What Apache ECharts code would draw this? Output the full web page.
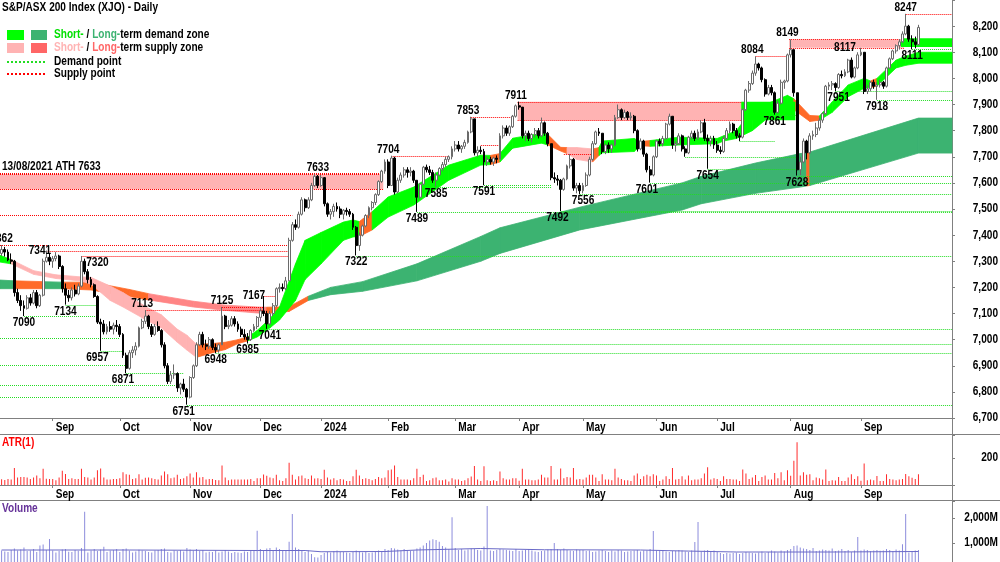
<!DOCTYPE html>
<html><head><meta charset="utf-8">
<script src="https://cdn.jsdelivr.net/npm/echarts@6/dist/echarts.min.js"></script>
<style>html,body{margin:0;padding:0;background:#fff}#c{width:1000px;height:562px}</style>
</head><body><div id="c"></div>
<script>
// ---------------- DATA ----------------
const firstDay = '2023-08-10';
const holidays = ['2023-12-25','2023-12-26','2024-01-01','2024-01-26','2024-03-29','2024-04-01','2024-04-25','2024-06-10'];
const monthNames = ['Jan','Feb','Mar','Apr','May','Jun','Jul','Aug','Sep','Oct','Nov','Dec'];

// daily [open, high, low, close]
const ohlc = [
// Aug 2023
[7330,7362,7320,7345],[7345,7355,7318,7335],[7335,7345,7300,7305],[7305,7330,7290,7300],[7300,7305,7165,7180],[7180,7195,7140,7150],[7150,7170,7110,7130],[7130,7150,7090,7120],[7120,7170,7115,7160],[7160,7175,7130,7140],[7140,7190,7135,7180],[7180,7190,7120,7130],[7130,7175,7125,7170],[7170,7310,7165,7300],[7300,7341,7295,7315],[7315,7330,7285,7300],
// Sep
[7300,7320,7275,7310],[7310,7335,7300,7320],[7320,7325,7270,7280],[7280,7285,7180,7195],[7195,7215,7134,7170],[7170,7190,7145,7160],[7160,7200,7150,7190],[7190,7210,7165,7175],[7175,7215,7170,7205],[7205,7320,7200,7300],[7300,7310,7250,7260],[7260,7270,7215,7230],[7230,7240,7200,7210],[7210,7215,7160,7165],[7165,7170,7060,7067],[7067,7080,6957,7060],[7060,7075,7020,7030],[7030,7060,7020,7050],[7050,7070,7030,7040],[7040,7065,7020,7055],[7055,7075,7030,7050],
// Oct
[7050,7060,7010,7020],[7020,7025,6930,6940],[6940,6950,6871,6890],[6890,6960,6885,6950],[6950,6975,6930,6960],[6960,6990,6940,6975],[6975,7050,6970,7045],[7045,7080,7040,7070],[7070,7113,7060,7090],[7090,7095,7040,7050],[7050,7060,7010,7020],[7020,7060,7015,7050],[7050,7070,7030,7035],[7035,7040,6970,6980],[6980,6990,6890,6900],[6900,6910,6830,6840],[6840,6880,6830,6865],[6865,6905,6850,6870],[6870,6875,6800,6815],[6815,6835,6790,6830],[6830,6850,6800,6810],[6810,6815,6751,6780],
// Nov
[6780,6860,6775,6855],[6855,6905,6850,6900],[6900,6990,6895,6980],[6980,7030,6975,7020],[7020,7030,6970,6980],[6980,7000,6960,6975],[6975,7010,6965,7000],[7000,7005,6960,6970],[6970,6985,6948,6960],[6960,6985,6950,6980],[6980,7125,6980,7090],[7090,7095,7040,7050],[7050,7075,7040,7055],[7055,7090,7050,7080],[7080,7090,7050,7060],[7060,7070,7030,7040],[7040,7050,7010,7020],[7020,7040,7000,7010],[7010,7025,6985,7000],[7000,7040,6995,7035],[7035,7060,7030,7050],[7050,7090,7040,7085],
// Dec
[7085,7120,7070,7110],[7110,7167,7090,7100],[7100,7110,7041,7060],[7060,7110,7055,7100],[7100,7140,7090,7130],[7130,7200,7125,7195],[7195,7215,7180,7200],[7200,7215,7185,7195],[7195,7240,7190,7225],[7225,7390,7225,7380],[7380,7450,7375,7440],[7440,7460,7420,7430],[7430,7490,7425,7480],[7480,7545,7475,7535],[7535,7540,7490,7505],[7505,7545,7500,7535],[7535,7600,7530,7590],[7590,7633,7585,7625],[7625,7630,7580,7590],
// Jan 2024
[7590,7630,7585,7620],[7620,7622,7510,7520],[7520,7525,7470,7480],[7480,7500,7460,7490],[7490,7520,7470,7510],[7510,7525,7490,7500],[7500,7510,7465,7480],[7480,7500,7460,7495],[7495,7505,7475,7490],[7490,7500,7470,7480],[7480,7485,7420,7430],[7430,7435,7322,7360],[7360,7410,7340,7400],[7400,7440,7395,7435],[7435,7480,7430,7475],[7475,7510,7465,7505],[7505,7530,7495,7525],[7525,7560,7515,7555],[7555,7610,7550,7605],[7605,7650,7600,7645],[7645,7690,7635,7680],
// Feb
[7680,7690,7580,7590],[7590,7704,7590,7695],[7695,7700,7555,7565],[7565,7620,7560,7610],[7610,7640,7600,7630],[7630,7660,7620,7650],[7650,7660,7620,7640],[7640,7660,7625,7645],[7645,7650,7600,7610],[7610,7610,7489,7545],[7545,7600,7540,7595],[7595,7665,7590,7660],[7660,7670,7640,7650],[7650,7665,7630,7640],[7640,7650,7600,7610],[7610,7640,7585,7630],[7630,7660,7625,7655],[7655,7680,7645,7670],[7670,7700,7660,7690],[7690,7705,7680,7700],[7700,7740,7690,7730],
// Mar
[7730,7760,7720,7745],[7745,7760,7720,7730],[7730,7745,7715,7740],[7740,7765,7730,7755],[7755,7800,7750,7795],[7795,7853,7790,7845],[7845,7845,7705,7715],[7715,7740,7700,7725],[7725,7740,7710,7720],[7720,7730,7591,7680],[7680,7700,7665,7690],[7690,7700,7670,7680],[7680,7700,7665,7695],[7695,7705,7675,7690],[7690,7790,7690,7780],[7780,7820,7770,7810],[7810,7820,7780,7790],[7790,7820,7780,7815],[7815,7860,7810,7855],[7855,7900,7850,7895],
// Apr
[7895,7911,7880,7890],[7890,7890,7770,7780],[7780,7800,7760,7790],[7790,7800,7760,7770],[7770,7790,7755,7785],[7785,7810,7775,7800],[7800,7810,7770,7780],[7780,7850,7775,7830],[7830,7835,7780,7790],[7790,7795,7740,7750],[7750,7750,7610,7620],[7620,7640,7600,7615],[7615,7630,7590,7610],[7610,7615,7492,7575],[7575,7620,7570,7615],[7615,7670,7610,7665],[7665,7710,7655,7690],[7690,7695,7570,7580],[7580,7600,7560,7590],[7590,7600,7556,7570],
// May
[7570,7600,7560,7590],[7590,7640,7585,7630],[7630,7700,7625,7690],[7690,7760,7685,7750],[7750,7800,7745,7795],[7795,7810,7780,7790],[7790,7790,7710,7720],[7720,7750,7710,7745],[7745,7755,7715,7730],[7730,7750,7715,7745],[7745,7860,7740,7850],[7850,7900,7845,7880],[7880,7885,7840,7850],[7850,7880,7845,7870],[7870,7875,7840,7850],[7850,7870,7840,7855],[7855,7860,7790,7800],[7800,7805,7720,7730],[7730,7770,7725,7760],[7760,7765,7700,7710],[7710,7715,7640,7650],[7650,7665,7601,7630],[7630,7705,7625,7700],
// Jun
[7700,7765,7695,7760],[7760,7770,7740,7750],[7750,7780,7740,7770],[7770,7830,7765,7825],[7825,7865,7820,7855],[7855,7855,7730,7745],[7745,7760,7720,7750],[7750,7790,7745,7780],[7780,7785,7720,7730],[7730,7740,7700,7715],[7715,7780,7710,7775],[7775,7800,7765,7790],[7790,7800,7760,7770],[7770,7805,7765,7795],[7795,7840,7790,7830],[7830,7845,7760,7770],[7770,7785,7654,7760],[7760,7780,7740,7770],[7770,7780,7730,7745],
// Jul
[7745,7760,7715,7725],[7725,7740,7710,7720],[7720,7780,7715,7770],[7770,7810,7765,7800],[7800,7835,7790,7825],[7825,7830,7790,7800],[7800,7810,7770,7780],[7780,7790,7760,7775],[7775,7885,7770,7880],[7880,7960,7875,7955],[7955,7990,7945,7980],[7980,8030,7975,8020],[8020,8084,8010,8055],[8055,8060,8030,8040],[8040,8045,7985,7995],[7995,8000,7930,7940],[7940,7975,7935,7965],[7965,7975,7935,7945],[7945,7950,7861,7870],[7870,7915,7865,7905],[7905,7995,7900,7985],[7985,7995,7960,7990],[7990,8095,7985,8090],
// Aug
[8090,8149,8080,8110],[8110,8110,7930,7945],[7945,7945,7628,7650],[7650,7700,7630,7680],[7680,7770,7675,7760],[7760,7765,7690,7715],[7715,7790,7710,7780],[7780,7800,7765,7785],[7785,7830,7775,7810],[7810,7850,7800,7840],[7840,7870,7830,7865],[7865,7975,7860,7970],[7970,7985,7955,7975],[7975,7990,7955,7980],[7980,7985,7951,7965],[7965,8020,7960,8015],[8015,8030,8000,8010],[8010,8035,8005,8025],[8025,8075,8020,8070],[8070,8080,8000,8005],[8005,8045,8000,8040],[8040,8100,8035,8090],
// Sep
[8090,8117,8085,8100],[8100,8100,7940,7950],[7950,7975,7940,7960],[7960,7990,7950,7985],[7985,7995,7960,7970],[7970,7985,7918,7975],[7975,7995,7965,7985],[7985,7990,7960,7970],[7970,8045,7965,8040],[8040,8080,8035,8075],[8075,8110,8070,8105],[8105,8130,8095,8125],[8125,8150,8110,8140],[8140,8180,8135,8170],[8170,8247,8165,8200],[8200,8205,8140,8150],[8150,8165,8111,8140],[8140,8160,8115,8130],[8130,8205,8125,8195]
];

// ATR(1) per day (points)
const atr = [
42,37,45,40,125,55,60,60,55,45,55,70,50,120,46,45,
45,35,55,105,81,45,50,45,45,120,60,55,40,55,110,123,55,40,40,45,45,
50,95,79,75,45,50,80,40,53,55,50,45,40,70,100,80,50,55,75,45,50,64,
85,55,95,55,60,40,45,45,37,35,145,55,35,40,40,40,40,40,40,45,30,50,
50,77,69,55,50,75,35,30,50,165,75,40,65,70,50,45,70,48,50,
45,112,55,40,50,35,45,40,30,30,65,113,70,45,50,45,35,45,60,50,55,
110,114,145,60,40,40,40,35,50,121,60,75,30,35,50,55,35,35,40,25,50,
40,40,30,35,50,63,140,40,30,139,35,30,35,30,100,50,40,40,50,50,
31,120,40,40,35,35,40,75,55,55,140,40,40,123,50,60,55,125,40,44,
40,55,75,75,55,30,80,40,40,35,120,55,45,35,35,30,70,85,45,65,75,64,80,
70,30,40,65,45,125,40,45,65,40,70,35,40,40,50,85,131,40,50,
45,30,65,45,45,40,40,30,115,85,45,55,74,30,60,70,40,40,89,50,95,35,110,
69,180,317,70,95,75,80,35,55,50,40,115,30,35,34,60,30,30,55,80,45,65,
32,160,35,40,35,67,30,30,80,45,40,35,40,45,82,65,54,45,80
];

// Volume per day (millions)
const volume = [
700,660,640,720,780,700,740,820,680,700,760,640,900,940,720,1160,
700,620,680,740,760,650,640,720,690,800,2250,620,700,760,680,740,850,640,700,720,760,
640,760,780,700,620,660,730,700,680,640,620,700,720,760,780,640,620,700,680,720,660,800,
740,700,760,680,720,620,650,640,700,620,660,720,660,600,640,620,600,660,640,700,720,1490,
760,720,780,800,700,820,760,700,680,1050,2160,820,760,700,640,700,560,430,420,
520,600,640,620,680,700,650,640,620,600,640,700,660,620,640,600,620,660,700,680,760,
720,800,780,740,700,760,720,680,700,780,820,900,1000,1100,1150,1120,1050,880,820,760,2030,
800,720,760,700,740,780,760,720,700,860,2480,700,680,720,760,740,720,700,680,760,
680,700,720,760,700,660,640,680,700,740,760,1000,760,720,780,720,700,680,740,720,
720,680,700,640,660,700,720,680,640,700,660,720,700,640,660,680,700,720,660,700,700,760,1480,
700,680,720,660,640,700,680,720,700,660,640,700,1040,1840,660,700,720,680,700,
640,600,560,600,580,600,620,560,600,640,620,600,580,620,660,600,640,700,660,620,700,660,720,
760,880,900,820,780,760,720,800,680,700,740,720,700,780,680,700,760,680,720,640,700,1240,
700,740,720,680,700,720,690,700,760,720,680,740,700,950,2160,620,680,700,720
];
// volume average line [dayIndex, millions]
const volumeAvg = [[0,720],[40,720],[80,700],[95,700],[100,650],[120,660],[130,720],[150,780],[170,730],[200,720],[210,690],[230,640],[260,640],[287,660]];

// tick labels
const priceTicks = [6700,6800,6900,7000,7100,7200,7300,7400,7500,7600,7700,7800,7900,8000,8100,8200];
const atrTicks = [200];
const volumeTicks = [1000,2000];

// ribbons: [dayIndex, lower, upper, state]  (dg long demand, s long supply, g short demand, p short supply, o turning)
const longRibbon = [[0,7195,7228,'dg'],[4,7195,7225,'o'],[13,7195,7222,'dg'],[19,7195,7220,'o'],[28,7190,7220,'o'],[40,7165,7192,'o'],[46,7152,7176,'s'],[60,7125,7147,'s'],[70,7112,7132,'s'],[80,7102,7125,'s'],[83,7100,7124,'o'],[90,7108,7126,'o'],[96,7150,7166,'dg'],[103,7172,7200,'dg'],[113,7185,7222,'dg'],[130,7225,7290,'dg'],[150,7300,7395,'dg'],[156,7330,7428,'dg'],[181,7420,7507,'dg'],[213,7496,7600,'dg'],[219,7520,7625,'dg'],[236,7560,7676,'dg'],[250,7584,7712,'dg'],[252,7588,7716,'o'],[253,7590,7718,'dg'],[287,7714,7848,'dg']];
const shortRibbon = [[0,7297,7323,'g'],[3,7290,7306,'p'],[10,7250,7264,'p'],[17,7234,7248,'p'],[25,7224,7240,'p'],[28,7212,7238,'p'],[34,7150,7205,'p'],[38,7125,7180,'p'],[46,7070,7120,'p'],[50,7045,7095,'p'],[55,6990,7040,'p'],[58,6960,7017,'p'],[61,6932,6982,'o'],[66,6950,6985,'o'],[70,6962,6990,'o'],[74,6985,7000,'o'],[77,6995,7010,'g'],[80,7010,7035,'g'],[84,7045,7080,'g'],[87,7075,7125,'g'],[92,7150,7290,'g'],[95,7230,7380,'g'],[100,7290,7410,'g'],[107,7380,7450,'g'],[110,7393,7458,'g'],[112,7395,7452,'o'],[116,7420,7490,'g'],[121,7469,7546,'g'],[129,7515,7584,'g'],[140,7610,7668,'g'],[150,7668,7706,'g'],[153,7670,7705,'o'],[156,7680,7712,'g'],[160,7733,7771,'g'],[169,7752,7790,'g'],[171,7745,7785,'o'],[175,7722,7736,'o'],[177,7712,7735,'p'],[180,7690,7735,'p'],[185,7680,7730,'o'],[187,7705,7735,'g'],[188,7715,7760,'g'],[198,7720,7770,'g'],[200,7742,7758,'o'],[203,7740,7762,'g'],[212,7745,7775,'g'],[224,7750,7770,'g'],[226,7760,7780,'g'],[230,7770,7800,'g'],[235,7800,7880,'g'],[240,7850,7905,'g'],[246,7885,7935,'g'],[248,7880,7922,'o'],[253,7835,7858,'o'],[256,7840,7856,'g'],[260,7870,7910,'g'],[265,7930,7975,'g'],[270,7962,8000,'g'],[272,7965,7990,'o'],[274,7970,8000,'g'],[280,8040,8070,'g'],[283,8050,8085,'g'],[287,8058,8100,'g']];

// horizontal zones [startDay, endDay(null = open), low, high, kind]
const zones = [[0,119,7575,7633,'supply'],[162,232,7840,7911,'supply'],[232,248,7840,7911,'demand'],[247,282,8117,8149,'supply'],[282,null,8120,8154,'demand']];
// demand points [startDay, endDay, price]
const demandLines = [[0,37,7006],[0,39,6903],[0,57,6826],[0,57,6780],[7,30,7090],[20,30,7134],[31,38,6957],[39,57,6871],[58,null,6751],[67,null,6948],[77,null,6985],[83,null,7041],[111,null,7322],[130,null,7489],[136,172,7585],[151,172,7591],[175,null,7492],[181,null,7556],[203,null,7601],[214,249,7700],[221,249,7654],[231,242,7760],[242,249,7861],[249,null,7628],[261,null,7951],[274,null,7918],[285,null,8111]];
// supply points
const supplyLines = [[0,91,7477],[0,90,7362],[14,90,7341],[25,90,7320],[45,82,7113],[69,82,7125],[82,86,7167],[0,119,7637],[122,140,7704],[147,160,7853],[150,156,7745],[176,185,7710],[236,246,8084],[283,null,8247]];
// swing labels [dayIndex, value, kind]
const swingLabels = [[0,7362,'high'],[7,7090,'low'],[12,7341,'side'],[20,7134,'low'],[30,7320,'low'],[30,6957,'low'],[38,6871,'low'],[44,7113,'high'],[57,6751,'low'],[69,7125,'high'],[67,6948,'low'],[79,7167,'side'],[77,6985,'low'],[84,7041,'low'],[99,7633,'high'],[111,7322,'low'],[121,7704,'high'],[130,7489,'low'],[136,7585,'low'],[146,7853,'high'],[151,7591,'low'],[161,7911,'high'],[174,7492,'low'],[182,7556,'low'],[202,7601,'low'],[221,7654,'low'],[235,8084,'high'],[242,7861,'low'],[246,8149,'high'],[249,7628,'low'],[264,8117,'side'],[262,7951,'low'],[274,7918,'low'],[283,8247,'high'],[285,8111,'low']];
const notes = [[0,7633,'13/08/2021 ATH 7633']];
const titleText = 'S&P/ASX 200 Index (XJO) - Daily';

// ---------------- BUILD ----------------
const FONT = '"Liberation Sans Narrow","Arial Narrow","Liberation Sans",Arial,sans-serif';
const FONT_CSS = 'bold 12.5px ' + FONT;
// narrow text: scale so that the title has the reference width
const SX = (function(){ const c=document.createElement('canvas').getContext('2d'); c.font=FONT_CSS;
  const w=c.measureText(titleText).width; return w>0 ? Math.min(1, 156/w) : 1; })();
const PAD = 10;
const N = ohlc.length;
const dates = [];
(function(){ const d = new Date(firstDay+'T00:00:00Z');
  while (dates.length < N) { const w=d.getUTCDay(), s=d.toISOString().slice(0,10);
    if (w!==0 && w!==6 && holidays.indexOf(s)<0) dates.push(s); d.setUTCDate(d.getUTCDate()+1); } })();
const cats = dates.concat(Array.from({length:PAD},(_,k)=>'pad'+k));
const monthLabel = {}; const monthIdx = [];
for (let i=1;i<N;i++){ if (dates[i].slice(5,7)!==dates[i-1].slice(5,7)){ const m=+dates[i].slice(5,7); monthLabel[i] = m===1 ? dates[i].slice(0,4) : monthNames[m-1]; monthIdx.push(i); } }
const isMonth = (i)=> monthLabel[i]!==undefined;
const fmt = v => String(v).replace(/\B(?=(\d{3})+(?!\d))/g, ',');

const COL = {g:'#00ff00', dg:'#3cb371', p:'#ffb3b3', s:'#ff8585', o:'#ff6a28'};
const segs = [];
function addRibbon(r){ for (let k=0;k<r.length;k++){ const a=r[k], b=r[k+1];
  segs.push(b ? {i0:a[0],lo0:a[1],hi0:a[2],i1:b[0],lo1:b[1],hi1:b[2],c:a[3],ext:false}
              : {i0:a[0],lo0:a[1],hi0:a[2],i1:a[0],lo1:a[1],hi1:a[2],c:a[3],ext:true}); } }
addRibbon(longRibbon); addRibbon(shortRibbon);

const right = (p)=> p.coordSys.x + p.coordSys.width;
const left = (p)=> p.coordSys.x;
const ry = (y)=> Math.round(y)+0.5;
function txt(x, y, text, align, va, fill){
  return {type:'text', x:x, y:y, scaleX:SX, style:{text:text, align:align, verticalAlign:va, font:FONT_CSS, fill:fill||'#000'}};
}

function xAxisCfg(g){
  return {type:'category', gridIndex:g, data:cats, boundaryGap:true,
    axisLine:{show:true, lineStyle:{color:'#808080', width:1}},
    axisTick:{show:g<2, alignWithLabel:true, interval:(i)=>isMonth(i), length:3, lineStyle:{color:'#808080'}},
    axisLabel:{show:false}, splitLine:{show:false}};
}
function yAxisCfg(g, min, max, interval){
  return {type:'value', gridIndex:g, position:'right', min:min, max:max, interval:interval,
    axisLine:{show:true, lineStyle:{color:'#808080'}}, axisTick:{show:true, length:3, lineStyle:{color:'#808080'}},
    axisLabel:{show:false}, splitLine:{show:false}};
}
function monthLabelSeries(g, yMin){
  return {type:'custom', xAxisIndex:g, yAxisIndex:g, z:7, silent:true,
    data: monthIdx.map(i=>[i, yMin]), encode:{x:0, y:1},
    renderItem:(params, api)=>{ const i = monthIdx[params.dataIndex]; const p = api.coord([i, yMin]);
      return txt(p[0]+3, params.coordSys.y + params.coordSys.height + 3, monthLabel[i], 'left', 'top'); }};
}
function valueLabelSeries(g, ticks, f){
  return {type:'custom', xAxisIndex:g, yAxisIndex:g, z:7, silent:true,
    data: ticks.map(v=>[0, v]), encode:{x:0, y:1},
    renderItem:(params, api)=>{ const v = ticks[params.dataIndex]; const p = api.coord([0, v]);
      return txt(right(params)+46, p[1], f(v), 'right', 'middle'); }};
}

const legendFont = {fontFamily:FONT, fontWeight:'bold', fontSize:12.5};
function gtext(x, y, style){ return {type:'text', x:x, y:y, scaleX:SX, style:Object.assign({verticalAlign:'middle', fill:'#000'}, legendFont, style)}; }

const option = {
  animation:false,
  backgroundColor:'#fff',
  textStyle:{fontFamily:FONT},
  grid:[
    {left:0, right:48, top:0, height:418, outerBoundsMode:'none'},
    {left:0, right:48, top:435, height:50, outerBoundsMode:'none'},
    {left:0, right:48, top:501, height:67, outerBoundsMode:'none'}
  ],
  xAxis:[xAxisCfg(0), xAxisCfg(1), xAxisCfg(2)],
  yAxis:[ yAxisCfg(0, 6700, 8300, 100), yAxisCfg(1, 0, 370, 200), yAxisCfg(2, 0, 2680, 1000) ],
  series:[
    {type:'custom', xAxisIndex:0, yAxisIndex:0, z:1, silent:true,
      data: segs.map(s=>[s.i0, Math.min(s.lo0,s.lo1), s.i1, Math.max(s.hi0,s.hi1)]),
      encode:{x:[0,2], y:[1,3]},
      renderItem:(params, api)=>{
        const s = segs[params.dataIndex];
        const a = api.coord([s.i0, s.hi0]), d = api.coord([s.i0, s.lo0]);
        let b = api.coord([s.i1, s.hi1]), c = api.coord([s.i1, s.lo1]);
        if (s.i0===0){ a[0]=left(params); d[0]=left(params); }
        if (s.ext){ b=[right(params), a[1]]; c=[right(params), d[1]]; }
        const col = COL[s.c];
        return {type:'polygon', shape:{points:[a,b,c,d]}, style:{fill:col, stroke:col, lineWidth:0.8}};
      }},
    {type:'custom', xAxisIndex:0, yAxisIndex:0, z:2, silent:true,
      data: zones.map(z=>[z[0], z[2], z[1]==null?N-1:z[1], z[3]]),
      encode:{x:[0,2], y:[1,3]},
      renderItem:(params, api)=>{
        const z = zones[params.dataIndex];
        const top = api.coord([z[0], z[3]]), bot = api.coord([z[0], z[2]]);
        const x0 = z[0]===0 ? left(params) : top[0]-1.5;
        const x1 = z[1]==null ? right(params) : api.coord([z[1], z[3]])[0]+1.5;
        const fill = z[4]==='supply' ? '#ffb3b3' : '#00ff00';
        const ch = [{type:'rect', shape:{x:x0, y:top[1], width:x1-x0, height:bot[1]-top[1]}, style:{fill:fill}}];
        if (z[4]==='supply'){
          [top[1], bot[1]].forEach(y=>ch.push({type:'line', shape:{x1:x0,y1:ry(y),x2:x1,y2:ry(y)}, style:{stroke:'#ff0000', lineWidth:1, lineDash:[1,1]}}));
        }
        return {type:'group', children:ch};
      }},
    {type:'custom', xAxisIndex:0, yAxisIndex:0, z:3, silent:true,
      data: demandLines.map(l=>[l[0], l[2]]).concat(supplyLines.map(l=>[l[0], l[2]])),
      encode:{x:0, y:1},
      renderItem:(params, api)=>{
        const k = params.dataIndex, isD = k < demandLines.length;
        const l = isD ? demandLines[k] : supplyLines[k-demandLines.length];
        const p = api.coord([l[0], l[2]]);
        const x0 = l[0]===0 ? left(params) : p[0];
        const x1 = l[1]==null ? right(params) : api.coord([l[1], l[2]])[0];
        return {type:'line', shape:{x1:x0, y1:ry(p[1]), x2:x1, y2:ry(p[1])},
          style:{stroke: isD ? '#22dd22' : '#ff0000', lineWidth:1, lineDash:[1,1]}};
      }},
    {type:'candlestick', xAxisIndex:0, yAxisIndex:0, z:5, silent:true, barWidth:2.4,
      data: ohlc.map(r=>[r[0], r[3], r[2], r[1]]),
      itemStyle:{color:'#ffffff', color0:'#000000', borderColor:'#6a6a6a', borderColor0:'#000000', borderWidth:1}},
    {type:'custom', xAxisIndex:0, yAxisIndex:0, z:6, silent:true,
      data: swingLabels.map(l=>[l[0], l[1]]), encode:{x:0, y:1},
      renderItem:(params, api)=>{
        const l = swingLabels[params.dataIndex];
        const p = api.coord([l[0], l[1]]);
        const va = l[2]==='high' ? 'bottom' : (l[2]==='low' ? 'top' : 'middle');
        return txt(p[0], p[1], String(l[1]), 'center', va);
      }},
    {type:'custom', xAxisIndex:0, yAxisIndex:0, z:6, silent:true,
      data: notes.map(n=>[n[0], n[1]]), encode:{x:0, y:1},
      renderItem:(params, api)=>{
        const n = notes[params.dataIndex];
        const p = api.coord([n[0], n[1]]);
        return txt(2, p[1]-1, n[2], 'left', 'bottom');
      }},
    monthLabelSeries(0, 6700),
    monthLabelSeries(1, 0),
    valueLabelSeries(0, priceTicks, v=>fmt(v)),
    valueLabelSeries(1, atrTicks, v=>String(v)),
    valueLabelSeries(2, volumeTicks, v=>fmt(v)+'M'),
    {type:'bar', xAxisIndex:1, yAxisIndex:1, data:atr, barWidth:1, silent:true, itemStyle:{color:'#ff2b2b'}},
    {type:'bar', xAxisIndex:2, yAxisIndex:2, data:volume, barWidth:1, silent:true, itemStyle:{color:'#8c8cdc'}},
    {type:'line', xAxisIndex:2, yAxisIndex:2, data:volumeAvg, showSymbol:false, silent:true, lineStyle:{color:'#6a6ac8', width:1}, z:4}
  ],
  graphic:[
    gtext(2, 8, {text:titleText}),
    {type:'rect', shape:{x:7, y:30, width:17, height:10}, style:{fill:'#00ff00'}},
    {type:'rect', shape:{x:31, y:30, width:16, height:10}, style:{fill:'#3cb371'}},
    gtext(54, 35, {text:'{a|Short-} / {b|Long-}term demand zone',
       rich:{a:Object.assign({fill:'#00e000'}, legendFont), b:Object.assign({fill:'#3cb371'}, legendFont)}}),
    {type:'rect', shape:{x:7, y:43, width:17, height:10}, style:{fill:'#ffb3b3'}},
    {type:'rect', shape:{x:31, y:43, width:16, height:10}, style:{fill:'#ff6666'}},
    gtext(54, 48, {text:'{a|Short-} / {b|Long-}term supply zone',
       rich:{a:Object.assign({fill:'#ffb3b3'}, legendFont), b:Object.assign({fill:'#ff6666'}, legendFont)}}),
    {type:'line', shape:{x1:7, y1:62, x2:46, y2:62}, style:{stroke:'#22dd22', lineWidth:2, lineDash:[2,2]}},
    gtext(54, 62, {text:'Demand point'}),
    {type:'line', shape:{x1:7, y1:74, x2:46, y2:74}, style:{stroke:'#ff0000', lineWidth:2, lineDash:[2,2]}},
    gtext(54, 74, {text:'Supply point'}),
    {type:'line', shape:{x1:0, y1:434.5, x2:1000, y2:434.5}, style:{stroke:'#808080', lineWidth:1}},
    {type:'line', shape:{x1:0, y1:500.5, x2:1000, y2:500.5}, style:{stroke:'#808080', lineWidth:1}},
    {type:'line', shape:{x1:952.5, y1:0, x2:952.5, y2:562}, style:{stroke:'#808080', lineWidth:1}},
    gtext(2, 443, {text:'ATR(1)', fill:'#ff0000'}),
    gtext(2, 509, {text:'Volume', fill:'#663399'})
  ]
};
const chart = echarts.init(document.getElementById('c'), null, {renderer:'canvas', width:1000, height:562});
chart.setOption(option);
</script></body></html>
